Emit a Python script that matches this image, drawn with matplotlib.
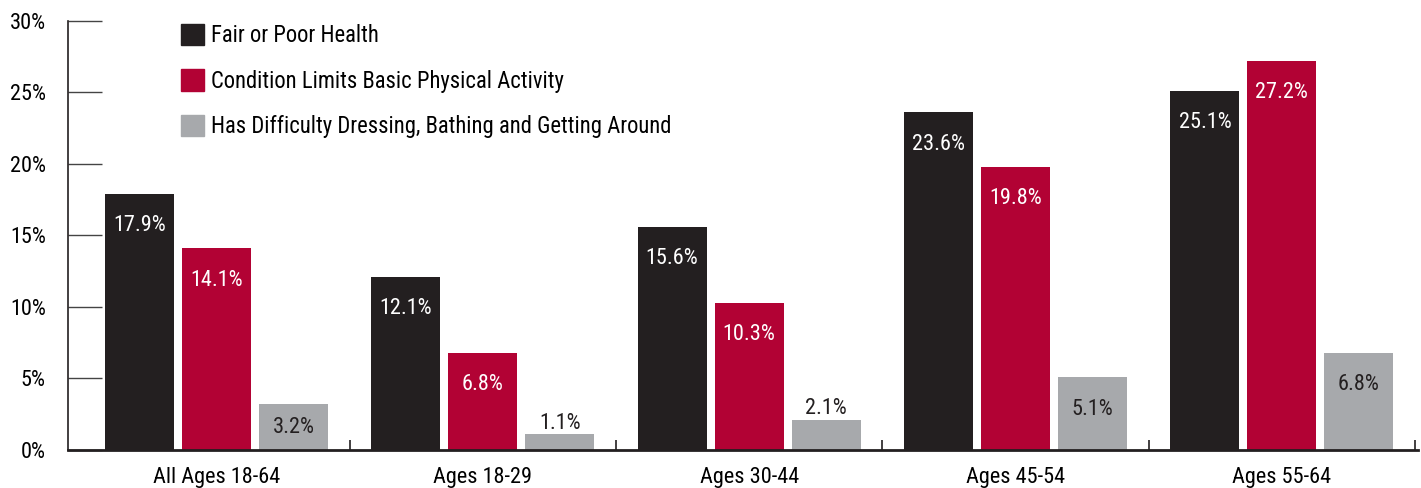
import matplotlib; matplotlib.use('Agg')
import numpy as np
from matplotlib import pyplot as plt
from matplotlib.patches import Patch

plt.rcParams.update({
    'font.family': ['Roboto Condensed', 'Liberation Sans Narrow',
                    'Liberation Sans', 'DejaVu Sans'],
})

BLACK = '#231F20'
RED = '#B20234'
GRAY = '#A7A9AC'

groups = ['All Ages 18-64', 'Ages 18-29', 'Ages 30-44', 'Ages 45-54', 'Ages 55-64']
series = ['Fair or Poor Health',
          'Condition Limits Basic Physical Activity',
          'Has Difficulty Dressing, Bathing and Getting Around']
fair_poor = [17.9, 12.1, 15.6, 23.6, 25.1]
limits_activity = [14.1, 6.8, 10.3, 19.8, 27.2]
difficulty = [3.2, 1.1, 2.1, 5.1, 6.8]

values = [fair_poor, limits_activity, difficulty]
colors = [BLACK, RED, GRAY]
text_colors = ['white', 'white', BLACK]

fig = plt.figure(figsize=(14.21, 4.88), dpi=100)
ax = fig.add_axes([0.0479, 0.0779, 0.9500, 0.8797])

idx = np.arange(len(groups))
bar_width = 0.259
step = 0.289
px_per_pt = 100 / 72

for i, (vals, c, tc) in enumerate(zip(values, colors, text_colors)):
    xs = idx + (i - 1) * step
    ax.bar(xs, vals, bar_width, color=c, label=series[i], zorder=2)
    for x, v in zip(xs, vals):
        # bar height in pixels: short bars get the label above
        h_px = v / 30 * 429
        if h_px < 40:
            ax.annotate(f'{v:.1f}%', (x, v), xytext=(0, 8),
                        textcoords='offset points', ha='center', va='center',
                        fontsize=16, color=BLACK)
        else:
            off = min(32, h_px / 2) / px_per_pt
            ax.annotate(f'{v:.1f}%', (x, v), xytext=(0, -off),
                        textcoords='offset points', ha='center', va='center',
                        fontsize=16, color=tc)

ax.set_xlim(-0.557, 4.511)
ax.set_ylim(0, 30)

ax.set_yticks([0, 5, 10, 15, 20, 25, 30])
ax.set_yticklabels(['0%', '5%', '10%', '15%', '20%', '25%', '30%'], fontsize=16)
ax.tick_params(axis='y', direction='in', length=24.5, width=1.0,
               color='#444444', pad=16)

ax.set_xticks(idx)
ax.set_xticklabels(groups, fontsize=16)
ax.tick_params(axis='x', which='major', length=0, pad=12)
ax.set_xticks(idx + 0.5, minor=True)
ax.tick_params(axis='x', which='minor', direction='in', length=7.2,
               width=1.2, color=BLACK)

for s in ['top', 'right']:
    ax.spines[s].set_visible(False)
ax.spines['left'].set_linewidth(1.2)
ax.spines['left'].set_color(BLACK)
ax.spines['bottom'].set_linewidth(2.0)
ax.spines['bottom'].set_color(BLACK)
ax.spines['bottom'].set_zorder(3)

handles = [Patch(color=c) for c in colors]
ax.legend(handles, series, loc='upper left', bbox_to_anchor=(0.0837, 0.993),
          frameon=False, fontsize=16.3, handlelength=1.02, handleheight=1.06,
          handletextpad=0.31, labelspacing=0.99, borderpad=0, borderaxespad=0)

plt.savefig('out.png', dpi=100)
plt.close()
